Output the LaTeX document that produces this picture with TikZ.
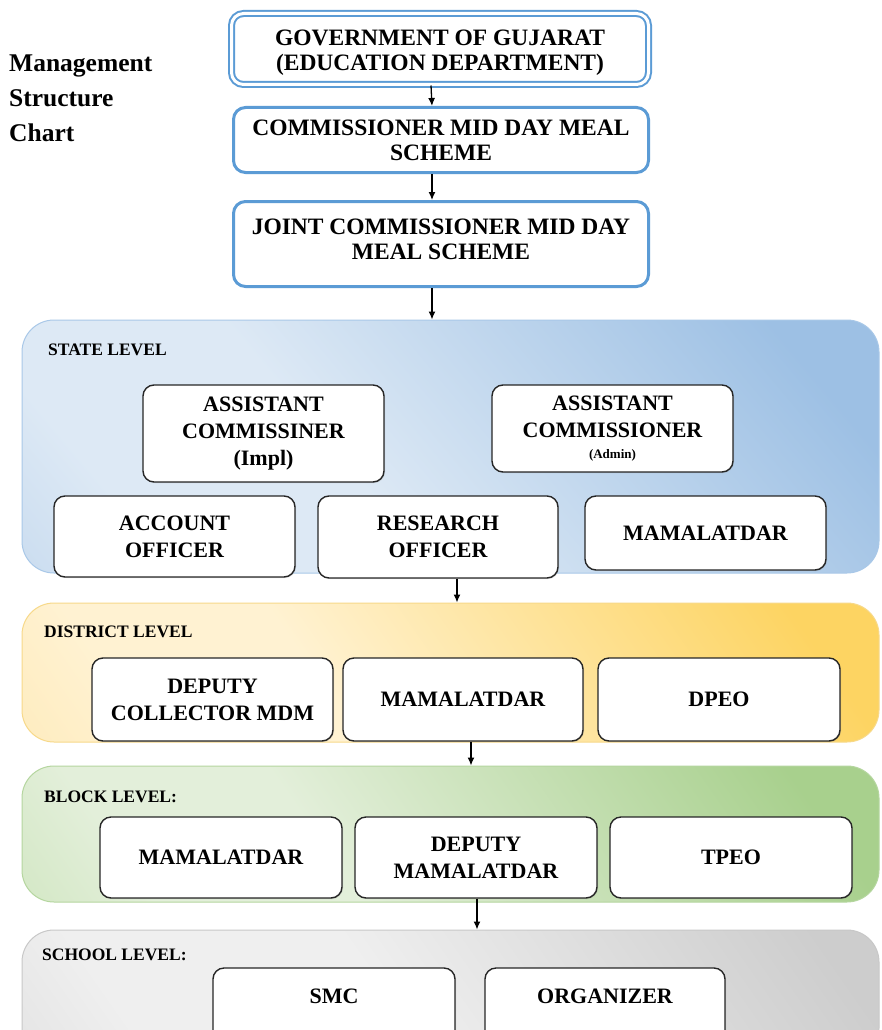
\documentclass[tikz,border=0pt]{standalone}
\usepackage{fontspec}
\setmainfont{Liberation Serif}
\usetikzlibrary{arrows.meta,shadows}
\definecolor{topblue}{HTML}{5B9BD5}
\definecolor{blueD}{HTML}{9DC0E4}
\definecolor{blueL}{HTML}{DDE9F5}
\definecolor{blueM}{HTML}{B0CBE8}
\definecolor{blueB}{HTML}{A9C8E8}
\definecolor{yelD}{HTML}{FDD462}
\definecolor{yelL}{HTML}{FFF2D2}
\definecolor{yelM}{HTML}{FDE3A2}
\definecolor{yelB}{HTML}{F7D98A}
\definecolor{grnD}{HTML}{A8D08D}
\definecolor{grnL}{HTML}{E3EFDA}
\definecolor{grnM}{HTML}{BCDCA6}
\definecolor{grnB}{HTML}{B5D69F}
\definecolor{gryD}{HTML}{CDCDCD}
\definecolor{gryL}{HTML}{EFEFEF}
\definecolor{gryM}{HTML}{D4D4D4}
\definecolor{gryB}{HTML}{C8C8C8}
\pgfdeclarehorizontalshading{blueshade}{100bp}{color(0bp)=(blueM); color(25bp)=(blueL); color(42bp)=(blueL); color(78bp)=(blueD); color(100bp)=(blueD)}
\pgfdeclarehorizontalshading{yelshade}{100bp}{color(0bp)=(yelM); color(25bp)=(yelL); color(40bp)=(yelL); color(78bp)=(yelD); color(100bp)=(yelD)}
\pgfdeclarehorizontalshading{grnshade}{100bp}{color(0bp)=(grnM); color(25bp)=(grnL); color(40bp)=(grnL); color(78bp)=(grnD); color(100bp)=(grnD)}
\pgfdeclarehorizontalshading{gryshade}{100bp}{color(0bp)=(gryM); color(25bp)=(gryL); color(45bp)=(gryL); color(80bp)=(gryD); color(100bp)=(gryD)}
\tikzset{
  x=1pt, y=-1pt,
  topbox/.style={draw=topblue, line width=3pt, rounded corners=12pt, fill=white,
    align=center, inner sep=0pt, font=\bfseries\fontsize{23.5}{26}\selectfont},
  panel/.style={draw=#1, line width=1pt, rounded corners=32pt, inner sep=0pt},
  obox/.style={draw=black!85, line width=1.4pt, rounded corners=11pt, fill=white,
    align=center, inner sep=0pt, font=\bfseries\fontsize{22}{27}\selectfont,
    drop shadow={opacity=0.25, shadow xshift=1pt, shadow yshift=-1pt}},
  lvl/.style={anchor=west, inner sep=0pt, font=\bfseries\fontsize{17.5}{20}\selectfont},
  arr/.style={line width=1.3pt, -{Latex[length=8pt,width=7pt]}}
}
\begin{document}
\begin{tikzpicture}
\clip (0,0) rectangle (881,1030);
\fill[white] (0,0) rectangle (881,1030);

% left title
\node[anchor=west, align=left, inner sep=0pt, font=\bfseries\fontsize{25.5}{35}\selectfont] (title) at (9,98) {Management\\Structure\\Chart};

% top boxes
\node[topbox, draw=topblue, line width=2pt, double=white, double distance=3pt,
      minimum width=417pt, minimum height=71pt] (gov) at (440,49)
      {\raisebox{-4pt}[\height][\depth]{\begin{tabular}{@{}c@{}}GOVERNMENT OF GUJARAT\\[-1pt](EDUCATION DEPARTMENT)\end{tabular}}};
\node[topbox, minimum width=415pt, minimum height=65pt] (com) at (441,140)
      {\raisebox{-3pt}[\height][\depth]{\begin{tabular}{@{}c@{}}COMMISSIONER MID DAY MEAL\\[-1pt]SCHEME\end{tabular}}};
\node[topbox, minimum width=415pt, minimum height=85pt] (joint) at (441,244)
      {\raisebox{2pt}[\height][\depth]{\begin{tabular}{@{}c@{}}JOINT COMMISSIONER MID DAY\\[-1pt]MEAL SCHEME\end{tabular}}};

% panels
\node[panel=blueB, shading=blueshade, shading angle=40,
      minimum width=857pt, minimum height=253pt] (state) at (450.5,446.5) {};
\node[panel=yelB, shading=yelshade, shading angle=35,
      minimum width=857pt, minimum height=139pt] (dist) at (450.5,672.5) {};
\node[panel=grnB, shading=grnshade, shading angle=35,
      minimum width=857pt, minimum height=136pt] (block) at (450.5,834) {};
\node[panel=gryB, shading=gryshade, shading angle=35,
      minimum width=857pt, minimum height=130pt] (school) at (450.5,995) {};

% level labels
\node[lvl] (lstate) at (48,350) {STATE LEVEL};
\node[lvl] (ldist) at (44,632) {DISTRICT LEVEL};
\node[lvl] (lblock) at (44,797) {BLOCK LEVEL:};
\node[lvl] (lschool) at (42,955) {SCHOOL LEVEL:};

% state level boxes
\node[obox, minimum width=241pt, minimum height=97pt] (aci) at (263.5,433.5)
      {ASSISTANT\\COMMISSINER\\(Impl)};
\node[obox, minimum width=241pt, minimum height=87pt] (aca) at (612.5,428.5)
      {ASSISTANT\\COMMISSIONER\\[-6pt]{\fontsize{13}{15}\selectfont (Admin)}};
\node[obox, minimum width=241pt, minimum height=81pt] (ao) at (174.5,536.5)
      {ACCOUNT\\OFFICER};
\node[obox, minimum width=240pt, minimum height=82pt] (ro) at (438,537)
      {RESEARCH\\OFFICER};
\node[obox, minimum width=241pt, minimum height=74pt] (mam1) at (705.5,533)
      {MAMALATDAR};

% district level boxes
\node[obox, minimum width=241pt, minimum height=83pt] (dc) at (212.5,699.5)
      {DEPUTY\\COLLECTOR MDM};
\node[obox, minimum width=240pt, minimum height=83pt] (mam2) at (463,699.5)
      {MAMALATDAR};
\node[obox, minimum width=242pt, minimum height=83pt] (dpeo) at (719,699.5)
      {DPEO};

% block level boxes
\node[obox, minimum width=242pt, minimum height=81pt] (mam3) at (221,857.5)
      {MAMALATDAR};
\node[obox, minimum width=242pt, minimum height=81pt] (dm) at (476,857.5)
      {DEPUTY\\MAMALATDAR};
\node[obox, minimum width=242pt, minimum height=81pt] (tpeo) at (731,857.5)
      {TPEO};

% school level boxes
\node[obox, minimum width=242pt, minimum height=77pt] (smc) at (334,1006.5)
      {\raisebox{10pt}[\height][\depth]{SMC}};
\node[obox, minimum width=240pt, minimum height=77pt] (org) at (605,1006.5)
      {\raisebox{10pt}[\height][\depth]{ORGANIZER}};

% arrows
\draw[arr] ([xshift=-9pt]gov.south) -- ([xshift=-9pt]com.north);
\draw[arr] ([xshift=-9pt]com.south) -- ([xshift=-9pt]joint.north);
\draw[arr] ([xshift=-9pt]joint.south) -- ([xshift=-9pt]joint.south |- state.north);
\draw[arr] ([xshift=19pt]ro.south) -- ([xshift=19pt]ro.south |- dist.north);
\draw[arr] ([xshift=8pt]mam2.south) -- ([xshift=8pt]mam2.south |- block.north);
\draw[arr] ([xshift=1pt]dm.south) -- ([xshift=1pt]dm.south |- school.north);
\end{tikzpicture}
\end{document}
